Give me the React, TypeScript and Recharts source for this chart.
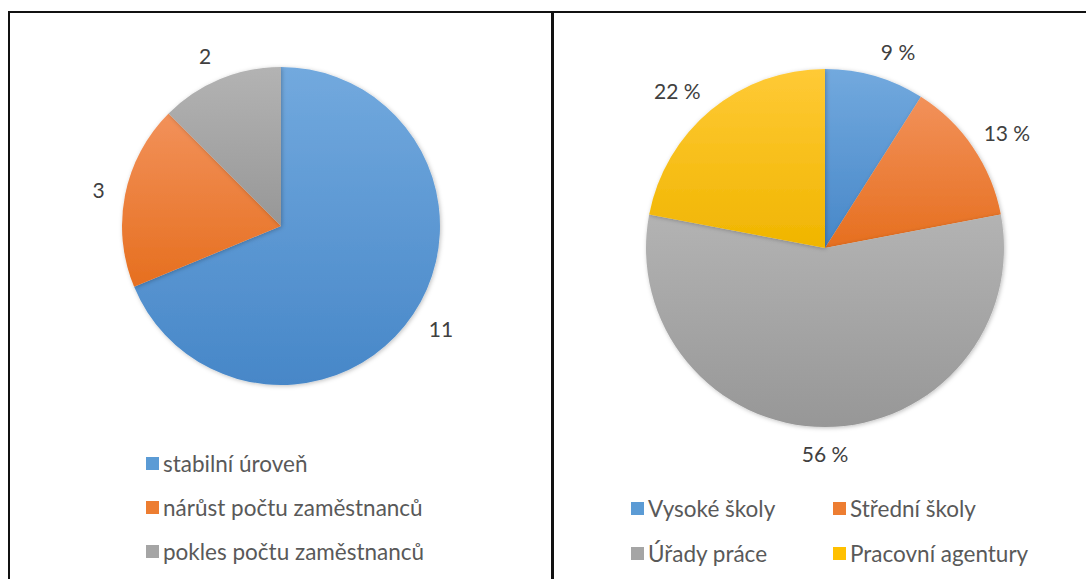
import { PieChart, Pie, Cell, Legend } from "recharts";

// left chart: development of headcount
const trendNames = ["stabilní úroveň", "nárůst počtu zaměstnanců", "pokles počtu zaměstnanců"];
const trendCounts = [11, 3, 2];

// right chart: where new staff comes from (%)
const sourceNames = ["Vysoké školy", "Střední školy", "Úřady práce", "Pracovní agentury"];
const sourceShares = [9, 13, 56, 22];

const colors = [
  { id: "gBlue", top: "#72A9DE", bottom: "#4787C8", flat: "#5B9BD5" },
  { id: "gOrange", top: "#F2915A", bottom: "#E66F1F", flat: "#ED7D31" },
  { id: "gGrey", top: "#B3B3B3", bottom: "#979797", flat: "#A5A5A5" },
  { id: "gGold", top: "#FFCA36", bottom: "#F0B500", flat: "#FFC000" },
];

const trendData = trendNames.map((name, i) => ({ name, value: trendCounts[i] }));
const sourceData = sourceNames.map((name, i) => ({ name, value: sourceShares[i] }));

const FONT = "Lato, 'Open Sans', sans-serif";
const RAD = Math.PI / 180;

function Defs() {
  return (
    <defs>
      {colors.map((c) => (
        <linearGradient key={c.id} id={c.id} x1="0" y1="0" x2="0" y2="1">
          <stop offset="0%" stopColor={c.top} />
          <stop offset="100%" stopColor={c.bottom} />
        </linearGradient>
      ))}
      <filter id="pieShadow" x="-10%" y="-10%" width="120%" height="120%">
        <feDropShadow dx="1" dy="1" stdDeviation="2" floodColor="#000" floodOpacity="0.25" />
      </filter>
    </defs>
  );
}

// label outside the slice; pushed sideways by part of its width like Excel does
const outsideLabel = (suffix: string) => (props: any) => {
  const { cx, cy, midAngle, outerRadius, value } = props;
  const text = `${value}${suffix}`;
  const ux = Math.cos(-midAngle * RAD);
  const uy = Math.sin(-midAngle * RAD);
  const halfW = text.length * 5.5;
  const r = outerRadius + 26;
  const side = Math.abs(ux) < 0.01 ? 0 : Math.sign(ux);
  return (
    <text
      x={cx + r * ux + side * halfW * Math.abs(uy)}
      y={cy + r * uy}
      textAnchor="middle"
      dominantBaseline="central"
      fill="#404040"
      fontSize={21}
      fontFamily={FONT}
    >
      {text}
    </text>
  );
};

function LegendItem({ x, y, name, color }: { x: number; y: number; name: string; color: string }) {
  return (
    <div style={{ position: "absolute", left: x, top: y - 14, height: 28, display: "flex", alignItems: "center", whiteSpace: "nowrap" }}>
      <span style={{ display: "inline-block", width: 13, height: 13, background: color, marginRight: 4 }} />
      <span style={{ fontFamily: FONT, fontSize: 22.5, color: "#595959" }}>{name}</span>
    </div>
  );
}

export default function App() {
  return (
    <div style={{ position: "absolute", left: 0, top: 0, width: 1086, height: 579, background: "#fff", overflow: "hidden" }}>
      {/* frame */}
      <div style={{ position: "absolute", left: 8, top: 11, width: 1078, height: 2, background: "#111" }} />
      <div style={{ position: "absolute", left: 8, top: 11, width: 2, height: 568, background: "#111" }} />
      <div style={{ position: "absolute", left: 551, top: 11, width: 3, height: 568, background: "#111" }} />

      <div style={{ position: "absolute", left: 10, top: 13 }}>
        <PieChart width={541} height={566} margin={{ top: 0, right: 0, bottom: 0, left: 0 }}>
          <Defs />
          <Pie
            data={trendData}
            dataKey="value"
            nameKey="name"
            cx={271}
            cy={213}
            outerRadius={159}
            startAngle={90}
            endAngle={-270}
            stroke="none"
            labelLine={false}
            label={outsideLabel("")}
            isAnimationActive={false}
          >
            {trendData.map((d, i) => (
              <Cell key={d.name} fill={`url(#${colors[i].id})`} filter="url(#pieShadow)" />
            ))}
          </Pie>
          <Legend
            wrapperStyle={{ position: "absolute", left: 0, top: 0, width: 541, height: 566 }}
            content={() => (
              <div style={{ position: "relative", width: 541, height: 566 }}>
                {trendNames.map((n, i) => (
                  <LegendItem key={n} x={136} y={450 + i * 44} name={n} color={colors[i].flat} />
                ))}
              </div>
            )}
          />
        </PieChart>
      </div>

      <div style={{ position: "absolute", left: 555, top: 13 }}>
        <PieChart width={531} height={566} margin={{ top: 0, right: 0, bottom: 0, left: 0 }}>
          <Defs />
          <Pie
            data={sourceData}
            dataKey="value"
            nameKey="name"
            cx={270}
            cy={235}
            outerRadius={179}
            startAngle={90}
            endAngle={-270}
            stroke="none"
            labelLine={false}
            label={outsideLabel(" %")}
            isAnimationActive={false}
          >
            {sourceData.map((d, i) => (
              <Cell key={d.name} fill={`url(#${colors[i].id})`} filter="url(#pieShadow)" />
            ))}
          </Pie>
          <Legend
            wrapperStyle={{ position: "absolute", left: 0, top: 0, width: 531, height: 566 }}
            content={() => (
              <div style={{ position: "relative", width: 531, height: 566 }}>
                {sourceNames.map((n, i) => (
                  <LegendItem
                    key={n}
                    x={i % 2 === 0 ? 76 : 278}
                    y={495 + Math.floor(i / 2) * 45}
                    name={n}
                    color={colors[i].flat}
                  />
                ))}
              </div>
            )}
          />
        </PieChart>
      </div>
    </div>
  );
}
